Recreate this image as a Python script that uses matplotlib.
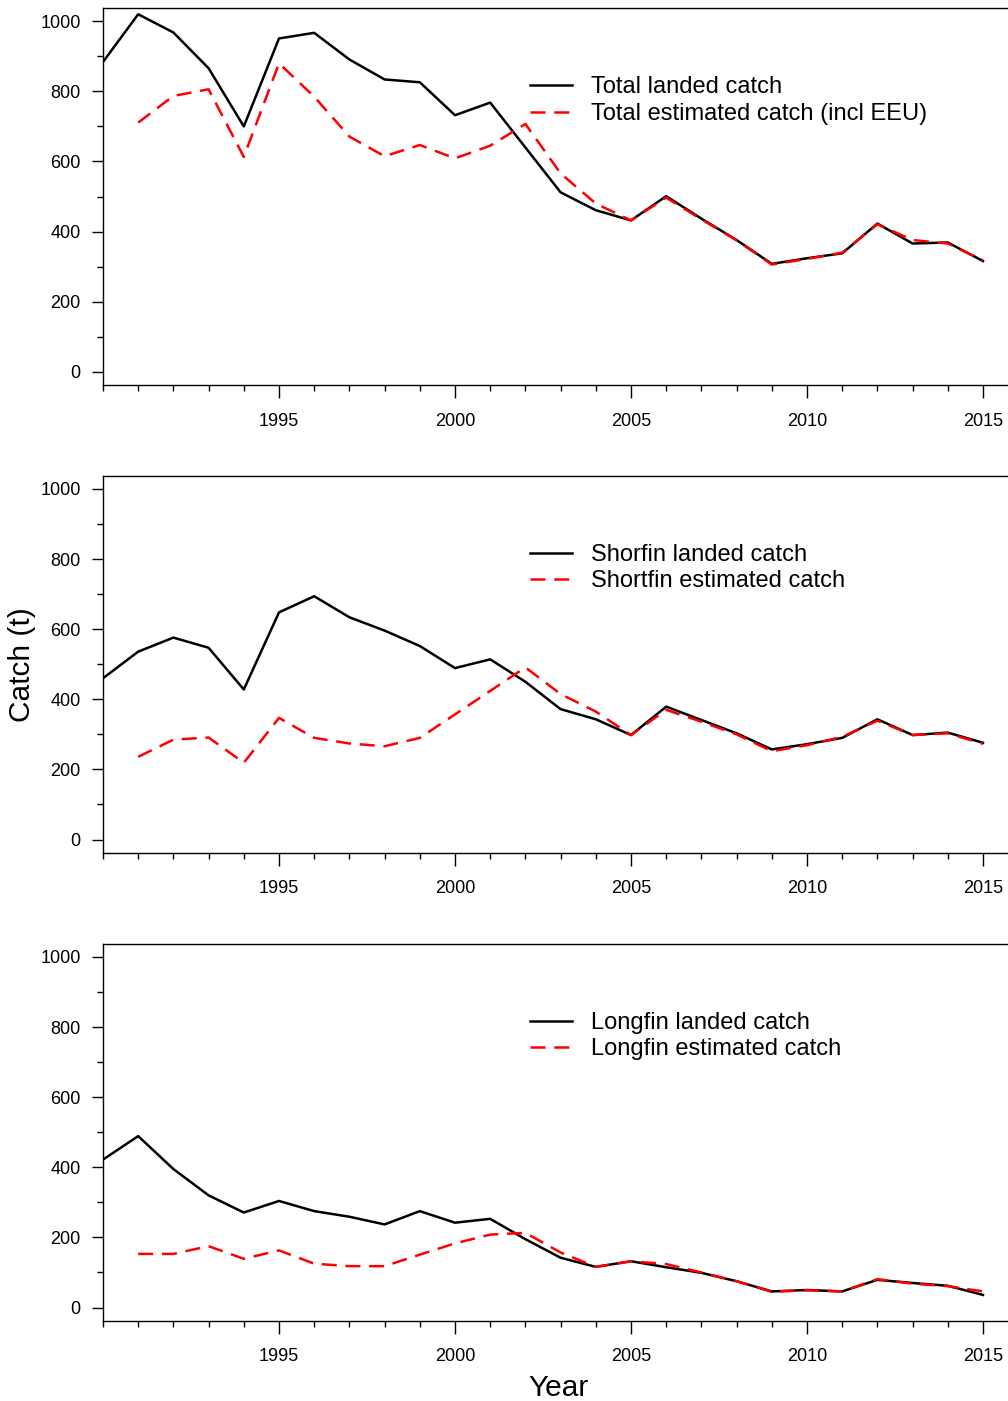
import matplotlib
matplotlib.use('Agg')
import matplotlib.pyplot as plt
import numpy as np
from matplotlib.ticker import MultipleLocator

plt.rcParams['font.family'] = ['Liberation Sans', 'DejaVu Sans']

# ---------------------------------------------------------------------------
# Data (tonnes)
# ---------------------------------------------------------------------------
years = np.arange(1990, 2016)
years_est = np.arange(1991, 2016)

total_landed = [884, 1020, 968, 866, 700, 951, 967, 891, 834, 826, 732, 768, 640,
                512, 461, 432, 501, 437, 376, 308, 324, 338, 423, 366, 369, 316]
total_est = [711, 787, 806, 613, 880, 785, 671, 615, 647, 609, 645, 707,
             566, 480, 432, 497, 435, 375, 306, 322, 340, 421, 376, 366, 318]

short_landed = [460, 536, 576, 547, 428, 648, 694, 634, 596, 552, 489, 514, 450,
                372, 343, 298, 379, 341, 303, 257, 272, 290, 343, 298, 305, 276]
short_est = [236, 285, 291, 219, 347, 290, 274, 266, 290, 357, 424, 491,
             415, 365, 298, 370, 336, 300, 252, 269, 293, 339, 298, 303, 273]

long_landed = [422, 489, 395, 320, 271, 304, 275, 259, 237, 275, 242, 253, 195,
               142, 116, 132, 115, 99, 75, 46, 50, 46, 79, 70, 62, 36]
long_est = [153, 153, 175, 139, 163, 125, 118, 118, 151, 183, 208, 213,
            157, 116, 132, 124, 100, 75, 45, 49, 46, 81, 68, 61, 46]

panels = [
    (total_landed, total_est, 'Total landed catch', 'Total estimated catch (incl EEU)'),
    (short_landed, short_est, 'Shorfin landed catch', 'Shortfin estimated catch'),
    (long_landed, long_est, 'Longfin landed catch', 'Longfin estimated catch'),
]

# ---------------------------------------------------------------------------
# Figure
# ---------------------------------------------------------------------------
W, H = 1008, 1401
fig = plt.figure(figsize=(W / 100, H / 100), dpi=100)

left_px = 103
px_per_year = 35.2
x_right = 1990 + (W - left_px) / px_per_year
panel_top_px = [8.3, 476.0, 944.0]
panel_h_px = 376.5

for (landed, est, lab1, lab2), top in zip(panels, panel_top_px):
    ax = fig.add_axes([left_px / W, (H - top - panel_h_px) / H,
                       (W - left_px) / W, panel_h_px / H])
    ax.plot(years, landed, color='black', lw=1.8, label=lab1)
    ax.plot(years_est, est, color='#FF0000', lw=1.8, dashes=(6, 3.5), label=lab2)

    ax.set_xlim(1990, x_right)
    ax.set_ylim(-37, 1037)
    ax.xaxis.set_major_locator(MultipleLocator(5))
    ax.xaxis.set_minor_locator(MultipleLocator(1))
    ax.yaxis.set_major_locator(MultipleLocator(200))
    ax.yaxis.set_minor_locator(MultipleLocator(100))
    ax.tick_params(axis='both', which='both', direction='out', width=1.0,
                   labelsize=13, colors='black')
    ax.tick_params(axis='x', which='major', length=9, pad=11)
    ax.tick_params(axis='x', which='minor', length=4.5)
    ax.tick_params(axis='y', which='major', length=8, pad=8)
    ax.tick_params(axis='y', which='minor', length=4.5)
    # axis starts at 1990 but that year carries no label
    ax.set_xticks([1995, 2000, 2005, 2010, 2015])
    for side in ['left', 'bottom', 'top']:
        ax.spines[side].set_linewidth(1.0)
    ax.spines['right'].set_visible(False)

    ax.legend(loc='upper left', bbox_to_anchor=(0.4718, 0.82), frameon=False,
              fontsize=17, handlelength=1.8, handletextpad=0.8,
              labelspacing=0.2, borderpad=0, borderaxespad=0)

fig.text(22 / W, 1 - 665 / H, 'Catch (t)', rotation=90, ha='center', va='center',
         fontsize=21.5)
fig.text(559 / W, 1 - 1388 / H, 'Year', ha='center', va='center', fontsize=21.5)

fig.savefig('out.png', dpi=100, facecolor='white')
